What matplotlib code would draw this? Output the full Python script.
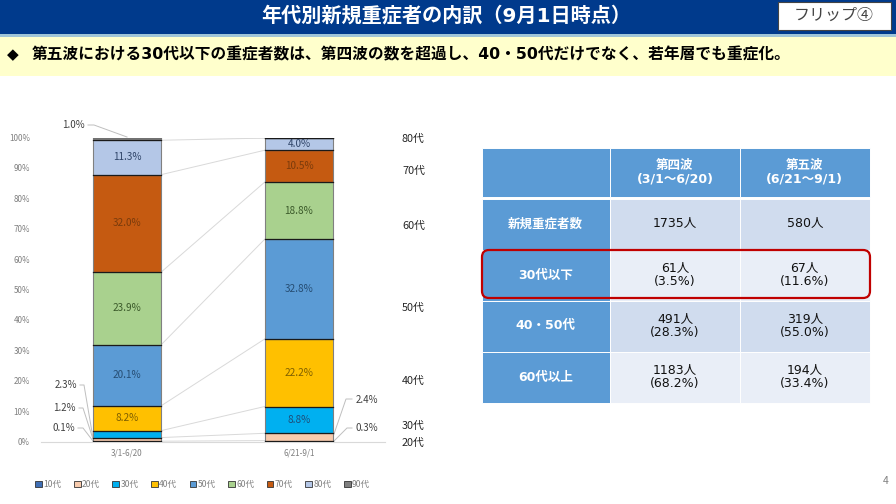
from matplotlib import pyplot as plt
from matplotlib.patches import Rectangle, FancyBboxPatch
import numpy as np

plt.rcParams['font.family'] = ['Noto Sans CJK JP', 'DejaVu Sans']
wide = ['DejaVu Sans', 'Noto Sans CJK JP']

W = 896
H = 504

periods = ["3/1-6/20", "6/21-9/1"]
ages = ["10代", "20代", "30代", "40代", "50代", "60代", "70代", "80代", "90代"]
wave4 = [0.1, 1.2, 2.3, 8.2, 20.1, 23.9, 32.0, 11.3, 1.0]
wave5 = [0.3, 2.4, 8.8, 22.2, 32.8, 18.8, 10.5, 4.0, 0.0]
colors = ["#3F6FB5", "#F8CBAD", "#00B0F0", "#FFC000", "#5B9BD5", "#A9D18E", "#C55A11", "#B4C7E7", "#7F7F7F"]
label_colors = ["#333333", "#333333", "#1F4E79", "#7F5F00", "#264D73", "#3B5A2A", "#7A3B0C", "#2F4468", "#333333"]
yticks = [0, 10, 20, 30, 40, 50, 60, 70, 80, 90, 100]

side_labels = ["80代", "70代", "60代", "50代", "40代", "30代", "20代"]
side_y = [139, 171, 226, 308, 381, 426, 443]

title = "年代別新規重症者の内訳\uff089月1日時点\uff09"
subtitle = "第五波における30代以下の重症者数は、第四波の数を超過し、40・50代だけでなく、若年層でも重症化。"
flip = "フリップ④"

table_head = ["第四波\n(3/1\uff5e6/20)", "第五波\n(6/21\uff5e9/1)"]
table_rows = ["新規重症者数", "30代以下", "40・50代", "60代以上"]
table_w4 = ["1735人", "61人\n(3.5%)", "491人\n(28.3%)", "1183人\n(68.2%)"]
table_w5 = ["580人", "67人\n(11.6%)", "319人\n(55.0%)", "194人\n(33.4%)"]

fig = plt.figure(figsize=(W / 100, H / 100), dpi=100)

# whole slide in pixel coords
bg = fig.add_axes([0, 0, 1, 1])
bg.set_xlim(0, W)
bg.set_ylim(H, 0)
bg.axis("off")

bg.add_patch(Rectangle((0, 0), W, 34, color="#003A8C", lw=0))
bg.add_patch(Rectangle((0, 34), W, 3, color="#9FC5D8", lw=0))
bg.add_patch(Rectangle((0, 37), W, 39, color="#FFFFCC", lw=0))
bg.text(446, 16, title, color="white", fontsize=14.5, fontweight="bold", ha="center", va="center", family=wide)
bg.add_patch(Rectangle((778, 2), 113, 28, fc="white", ec="#444444", lw=0.8))
bg.text(834, 15, flip, color="#444444", fontsize=11.5, ha="center", va="center")
bg.text(13, 55, "◆", color="black", fontsize=11, ha="center", va="center", family=["DejaVu Sans"])
bg.text(32, 55, subtitle, color="black", fontsize=11.3, fontweight="bold", ha="left", va="center", family=wide)
bg.text(886, 481, "4", color="#808080", fontsize=7.5, ha="center", va="center")

# stacked bars
ax = fig.add_axes([41 / W, 1 - 441.5 / H, 344 / W, 304 / H])
ax.patch.set_alpha(0)
x = np.arange(2)
bw = 0.4
bot4 = np.concatenate([[0], np.cumsum(wave4)])
bot5 = np.concatenate([[0], np.cumsum(wave5)])

for i in range(len(ages)):
    ax.bar(x, [wave4[i], wave5[i]], bw, bottom=[bot4[i], bot5[i]], color=colors[i],
           edgecolor="#808080", linewidth=0.8, label=ages[i], zorder=3)
    # series lines between the bars
    ax.plot([bw / 2, 1 - bw / 2], [bot4[i + 1], bot5[i + 1]], color="#D9D9D9", lw=0.7, zorder=2)
    ax.plot([-bw / 2, bw / 2], [bot4[i + 1], bot4[i + 1]], color="#1A1A1A", lw=0.9, zorder=3.5)
    ax.plot([1 - bw / 2, 1 + bw / 2], [bot5[i + 1], bot5[i + 1]], color="#1A1A1A", lw=0.9, zorder=3.5)

for i in range(3, 8):
    ax.text(0, bot4[i] + wave4[i] / 2, "%.1f%%" % wave4[i], color=label_colors[i],
            fontsize=7.2, ha="center", va="center", zorder=4)
for i in range(2, 8):
    ax.text(1, bot5[i] + wave5[i] / 2, "%.1f%%" % wave5[i], color=label_colors[i],
            fontsize=7.2, ha="center", va="center", zorder=4)

ax.set_xlim(-0.5, 1.5)
ax.set_ylim(0, 100)
ax.set_xticks(x)
ax.set_xticklabels(periods)
ax.set_yticks(yticks)
ax.set_yticklabels(["%d%%" % v for v in yticks])
ax.tick_params(axis="both", length=0, labelsize=5.8, labelcolor="#7F7F7F")
ax.tick_params(axis="x", pad=5)
ax.tick_params(axis="y", pad=8)
for s in ["top", "right", "left"]:
    ax.spines[s].set_visible(False)
ax.spines["bottom"].set_color("#D9D9D9")

leg = ax.legend(loc="upper center", bbox_to_anchor=(0.47, -0.112), ncol=9, frameon=False, fontsize=6.2,
                handlelength=0.8, handleheight=0.8, handletextpad=0.15, columnspacing=1.42, borderpad=0)
for t in leg.get_texts():
    t.set_color("#7F7F7F")
for h in leg.legend_handles:
    h.set_edgecolor("#333333")
    h.set_linewidth(0.6)

# leader lines to the small values
def leader(txt, tx, ty, pts, ha):
    bg.text(tx, ty, txt, color="#404040", fontsize=7, ha=ha, va="center")
    bg.plot([p[0] for p in pts], [p[1] for p in pts], color="#BFBFBF", lw=0.7)

leader("%.1f%%" % wave4[8], 85, 125, [(88, 125), (94, 125), (127, 137)], "right")
leader("%.1f%%" % wave4[2], 77, 385, [(80, 385), (84, 385), (93, 438)], "right")
leader("%.1f%%" % wave4[1], 76, 408, [(79, 408), (83, 408), (93, 439)], "right")
leader("%.1f%%" % wave4[0], 75, 428, [(78, 428), (83, 428), (93, 441)], "right")
leader("%.1f%%" % wave5[1], 356, 400, [(352, 399), (346, 399), (334, 434)], "left")
leader("%.1f%%" % wave5[0], 355, 428, [(352, 428), (347, 428), (334, 441)], "left")

for s, sy in zip(side_labels, side_y):
    bg.text(402, sy, s, color="#262626", fontsize=7.8, ha="left", va="center")

# table
col_x = [481.5, 610, 740, 869.5]
row_y = [148, 198.5, 249.5, 300.5, 351.5, 402.5]
row_fill = ["#D0DCEE", "#E9EEF7", "#D0DCEE", "#E9EEF7"]
tsize = 9

for c in range(3):
    bg.add_patch(Rectangle((col_x[c], row_y[0]), col_x[c + 1] - col_x[c], row_y[1] - row_y[0] - 1.5,
                           fc="#5B9BD5", ec="white", lw=0.7))
for c in range(2):
    bg.text((col_x[c + 1] + col_x[c + 2]) / 2, 172.5, table_head[c], color="white", fontsize=tsize,
            fontweight="bold", ha="center", va="center", linespacing=1.05, family=wide)

for r in range(4):
    y0 = row_y[r + 1]
    h = row_y[r + 2] - y0
    bg.add_patch(Rectangle((col_x[0], y0), col_x[1] - col_x[0], h, fc="#5B9BD5", ec="white", lw=0.7))
    bg.add_patch(Rectangle((col_x[1], y0), col_x[2] - col_x[1], h, fc=row_fill[r], ec="white", lw=0.7))
    bg.add_patch(Rectangle((col_x[2], y0), col_x[3] - col_x[2], h, fc=row_fill[r], ec="white", lw=0.7))
    cy = y0 + h / 2
    bg.text((col_x[0] + col_x[1]) / 2, cy, table_rows[r], color="white", fontsize=tsize,
            fontweight="bold", ha="center", va="center", family=wide)
    bg.text((col_x[1] + col_x[2]) / 2, cy, table_w4[r], color="#111111", fontsize=tsize,
            ha="center", va="center", linespacing=1.0, family=wide)
    bg.text((col_x[2] + col_x[3]) / 2, cy, table_w5[r], color="#111111", fontsize=tsize,
            ha="center", va="center", linespacing=1.0, family=wide)

bg.add_patch(FancyBboxPatch((482, 250), 388, 48, boxstyle="round,pad=0,rounding_size=7", fc="none",
                            ec="#C00000", lw=1.6, zorder=5))

fig.savefig("out.png", dpi=100)
plt.close()
